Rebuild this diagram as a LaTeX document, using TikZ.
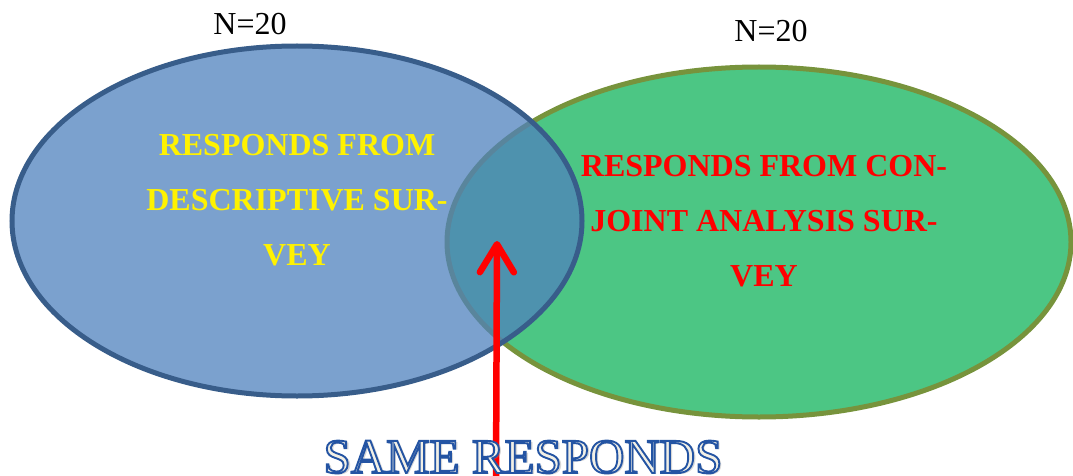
\documentclass[tikz,border=0pt]{standalone}
\usepackage{fontspec}
\setmainfont{Liberation Serif}
\usetikzlibrary{arrows.meta}
\usetikzlibrary{shapes.geometric}
\definecolor{descfill}{RGB}{79,129,189}
\definecolor{descline}{RGB}{56,93,138}
\definecolor{jointfill}{RGB}{76,198,132}
\definecolor{jointline}{RGB}{119,147,60}
\definecolor{samefill}{RGB}{242,240,230}
% outlined text: stroke in blue, fill in the current colour
\newcommand{\outlined}[1]{\special{pdf:literal direct 2 Tr 1.9 w 0.14 0.33 0.64 RG}#1\special{pdf:literal direct 0 Tr}}

\begin{document}
\begin{tikzpicture}[x=1pt,y=-1pt,
    setlabel/.style={align=center,font=\fontsize{32}{55}\selectfont\bfseries},
    countlabel/.style={font=\fontsize{32}{36}\selectfont}]
    \useasboundingbox (0,0) rectangle (1073,476);
    \node[ellipse,draw=jointline,fill=jointfill,line width=5pt,
          minimum width=624pt,minimum height=350pt] (joint) at (759,242) {};
    \node[ellipse,draw=descline,fill=descfill,fill opacity=0.75,line width=5pt,
          minimum width=570pt,minimum height=350pt] (desc) at (297,221) {};
    \node[countlabel] (ndesc) at (250,24) {N=20};
    \node[countlabel] (njoint) at (771,31) {N=20};
    \node[setlabel,text=yellow] (desctext) at (297,200)
        {RESPONDS FROM\\DESCRIPTIVE SUR-\\VEY};
    \node[setlabel,text=red] (jointtext) at (764,221)
        {RESPONDS FROM CON-\\JOINT ANALYSIS SUR-\\VEY};
    \coordinate (foot) at (496,480);
    \coordinate (tip) at (497,241);
    \draw[red,line width=6.5pt,-{Straight Barb[length=28pt,width=34pt,round]}] (foot) -- (tip);
    \node[anchor=base,text=black!45,opacity=0.35,font=\fontsize{49}{50}\selectfont]
        (sameshadow) at (525.5,474.5) {SAME RESPONDS};
    \node[anchor=base,text=samefill,font=\fontsize{49}{50}\selectfont] (same) at (523,473)
        {\outlined{SAME RESPONDS}};
\end{tikzpicture}
\end{document}
